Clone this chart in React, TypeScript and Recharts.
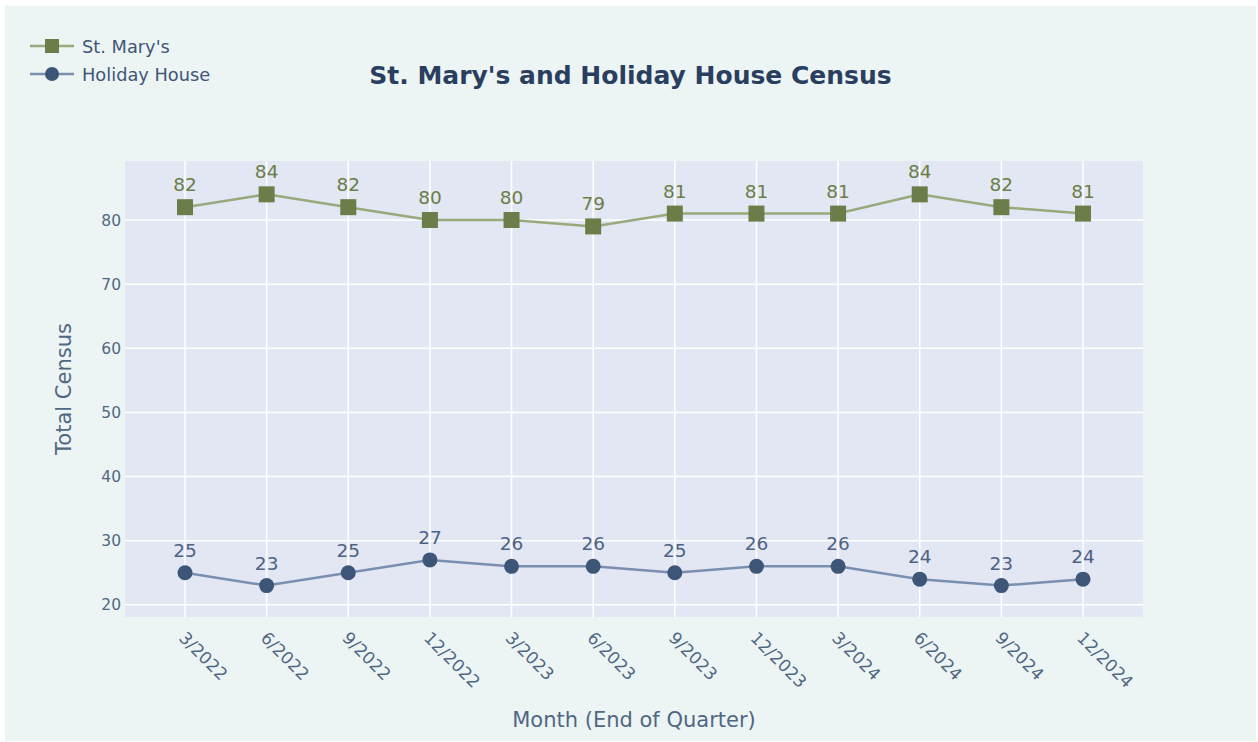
import React from 'react'
import { LineChart, Line, XAxis, YAxis, CartesianGrid, LabelList } from 'recharts'

const quarters = ['3/2022', '6/2022', '9/2022', '12/2022', '3/2023', '6/2023', '9/2023', '12/2023', '3/2024', '6/2024', '9/2024', '12/2024']
const stMarys = [82, 84, 82, 80, 80, 79, 81, 81, 81, 84, 82, 81]
const holidayHouse = [25, 23, 25, 27, 26, 26, 25, 26, 26, 24, 23, 24]
const yTicks = [20, 30, 40, 50, 60, 70, 80]

const data = quarters.map((q, i) => ({ quarter: q, stMarys: stMarys[i], holiday: holidayHouse[i] }))

const FONT = "'DejaVu Sans', Verdana, sans-serif"
const TEXT = '#2a3f5f'
const TICK = '#506784'
const OLIVE = '#6b7d48'
const OLIVE_LINE = '#98a97b'
const SLATE = '#3d5678'
const SLATE_LINE = '#7a8fb0'

const SquareDot = (props: any) => {
  const { cx, cy } = props
  if (cx == null || cy == null) return null
  return <rect x={cx - 8} y={cy - 8} width={16} height={16} fill={OLIVE} />
}

const CircleDot = (props: any) => {
  const { cx, cy } = props
  if (cx == null || cy == null) return null
  return <circle cx={cx} cy={cy} r={7.5} fill={SLATE} />
}

const XTick = (props: any) => {
  const { x, y, payload } = props
  return (
    <g transform={`translate(${x - 7},${y + 20}) rotate(45)`}>
      <text x={0} y={0} textAnchor="start" fill={TICK} fontSize={17} fontFamily={FONT}>
        {payload.value}
      </text>
    </g>
  )
}

const legendItems = [
  { name: "St. Mary's", line: OLIVE_LINE, shape: 'square', color: OLIVE },
  { name: 'Holiday House', line: SLATE_LINE, shape: 'circle', color: SLATE },
]

const ChartLegend = () => (
  <div style={{ position: 'absolute', left: 25, top: 26, fontFamily: FONT, fontSize: 17.8, color: '#3f5575' }}>
    {legendItems.map((it) => (
      <div key={it.name} style={{ display: 'flex', alignItems: 'center', height: 28 }}>
        <svg width={52} height={20}>
          <line x1={0} y1={10} x2={44} y2={10} stroke={it.line} strokeWidth={2.5} />
          {it.shape === 'square' ? (
            <rect x={15} y={3} width={14} height={14} fill={it.color} />
          ) : (
            <circle cx={22} cy={10} r={7} fill={it.color} />
          )}
        </svg>
        <span>{it.name}</span>
      </div>
    ))}
  </div>
)

export default function App() {
  return (
    <div style={{ position: 'absolute', left: 0, top: 0, width: 1258, height: 742, background: '#ffffff' }}>
      <div style={{ position: 'absolute', left: 5, top: 6, width: 1251, height: 735, background: '#edf5f4' }}>
        <LineChart width={1251} height={735} data={data} margin={{ top: 155, right: 113, left: 0, bottom: 0 }}>
          <CartesianGrid
            fill="#e3e7f3"
            stroke="#ffffff"
            strokeWidth={1.5}
            horizontalValues={yTicks}
            verticalValues={quarters}
          />
          <XAxis
            dataKey="quarter"
            height={124}
            padding={{ left: 60, right: 60 }}
            axisLine={false}
            tickLine={false}
            tickSize={0}
            tick={<XTick />}
            interval={0}
            label={{
              value: 'Month (End of Quarter)',
              position: 'insideBottom',
              offset: 14,
              fill: TICK,
              fontSize: 21,
              fontFamily: FONT,
            }}
          />
          <YAxis
            type="number"
            width={120}
            domain={[18.1, 89.2]}
            ticks={yTicks}
            allowDataOverflow
            axisLine={false}
            tickLine={false}
            tickSize={0}
            tickMargin={4}
            tick={{ fill: TICK, fontSize: 15.5, fontFamily: FONT }}
            label={{
              content: (p: any) => {
                const vb = p.viewBox || {}
                const cy = (vb.y ?? 155) + (vb.height ?? 456) / 2
                return (
                  <text
                    x={66}
                    y={cy}
                    transform={`rotate(-90, 66, ${cy})`}
                    textAnchor="middle"
                    fill={TICK}
                    fontSize={21}
                    fontFamily={FONT}
                  >
                    Total Census
                  </text>
                )
              },
            }}
          />
          <Line
            name="St. Mary's"
            dataKey="stMarys"
            type="linear"
            stroke={OLIVE_LINE}
            strokeWidth={2.5}
            dot={<SquareDot />}
            activeDot={false}
            isAnimationActive={false}
          >
            <LabelList dataKey="stMarys" position="top" offset={16} fill={OLIVE} fontSize={18.5} fontFamily={FONT} />
          </Line>
          <Line
            name="Holiday House"
            dataKey="holiday"
            type="linear"
            stroke={SLATE_LINE}
            strokeWidth={2.5}
            dot={<CircleDot />}
            activeDot={false}
            isAnimationActive={false}
          >
            <LabelList dataKey="holiday" position="top" offset={16} fill="#4c6385" fontSize={18.5} fontFamily={FONT} />
          </Line>
        </LineChart>
        <ChartLegend />
        <div
          style={{
            position: 'absolute',
            top: 55,
            left: 0,
            width: 1251,
            textAlign: 'center',
            fontFamily: FONT,
            fontWeight: 'bold',
            fontSize: 25,
            color: TEXT,
          }}
        >
          St. Mary's and Holiday House Census
        </div>
      </div>
    </div>
  )
}
